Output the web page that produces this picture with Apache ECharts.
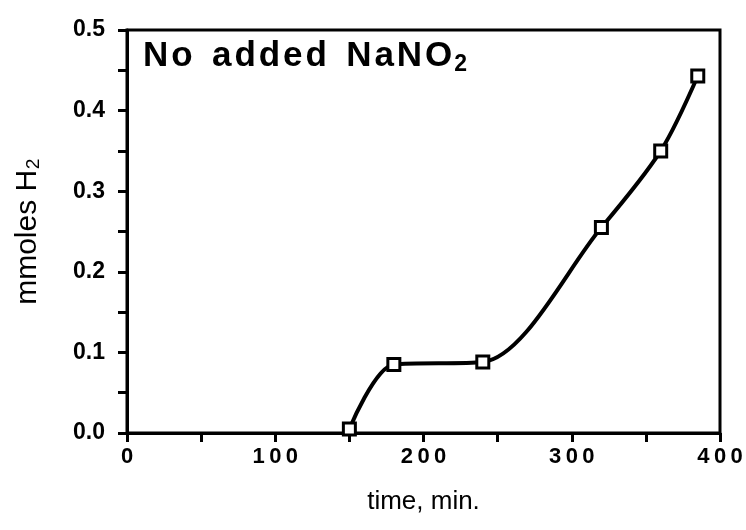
<!DOCTYPE html>
<html>
<head>
<meta charset="utf-8">
<script src="https://cdn.jsdelivr.net/npm/echarts@6/dist/echarts.min.js"></script>
<style>
  html, body { margin: 0; padding: 0; background: #fff; }
  #chart { width: 746px; height: 530px; }
</style>
</head>
<body>
<div id="chart"></div>
<script>
// Hydrogen evolved over time, no nitrite added
const timeMin = [150, 180, 240, 320, 360, 385];
const mmolesH2 = [0.005, 0.085, 0.088, 0.255, 0.35, 0.443];
const xTickLabels = ['0', '100', '200', '300', '400'];
const yTickLabels = ['0.0', '0.1', '0.2', '0.3', '0.4', '0.5'];

const FONT = 'Liberation Sans, Arial, Helvetica, sans-serif';
const chart = echarts.init(document.getElementById('chart'));

const points = timeMin.map((t, i) => [t, mmolesH2[i]]);
// spread characters apart like the typeset lettering
const spaced = (s, gap) => s.split('').join(gap);

chart.setOption({
  backgroundColor: '#fff',
  animation: false,
  grid: {
    left: 127, right: 26, top: 30, bottom: 97,
    show: true, borderColor: '#000', borderWidth: 3, backgroundColor: 'transparent'
  },
  graphic: [{
    type: 'text',
    left: 143, top: 39,
    style: {
      text: '{b|' + spaced('No', '\u200a') + '  ' + spaced('added', '\u200a') + '  ' +
            spaced('NaNO', '\u200a') + '}{s|2}',
      rich: {
        b: { fontFamily: FONT, fontWeight: 'bold', fontSize: 35, fill: '#000' },
        s: { fontFamily: FONT, fontWeight: 'bold', fontSize: 23, fill: '#000', padding: [16, 0, 0, 2] }
      }
    }
  }],
  xAxis: {
    type: 'value', min: 0, max: 400, interval: 50,
    name: 'time, min.', nameLocation: 'middle', nameGap: 56,
    nameTextStyle: { fontFamily: FONT, fontSize: 26, color: '#000' },
    axisLine: { lineStyle: { color: '#000', width: 3 } },
    axisTick: { inside: false, length: 9, lineStyle: { color: '#000', width: 3 } },
    splitLine: { show: false },
    axisLabel: {
      fontFamily: FONT, fontWeight: 'bold', fontSize: 22, color: '#000', margin: 13,
      formatter: v => (v % 100 === 0 ? spaced(xTickLabels[v / 100], '\u2009') : '')
    }
  },
  yAxis: {
    type: 'value', min: 0, max: 0.5, interval: 0.05,
    name: 'mmoles H\u2082', nameLocation: 'middle', nameGap: 84, nameRotate: 90,
    nameTextStyle: { fontFamily: FONT, fontSize: 30, color: '#000' },
    axisLine: { lineStyle: { color: '#000', width: 3 } },
    axisTick: { inside: false, length: 9, lineStyle: { color: '#000', width: 3 } },
    splitLine: { show: false },
    axisLabel: {
      fontFamily: FONT, fontWeight: 'bold', fontSize: 23, color: '#000', margin: 22,
      formatter: v => {
        const k = Math.round(v * 20);
        return k % 2 === 0 ? yTickLabels[k / 2] : '';
      }
    }
  },
  series: [{
    type: 'line',
    data: points,
    smooth: 0.3,
    symbol: 'rect',
    symbolSize: 12,
    lineStyle: { color: '#000', width: 4 },
    itemStyle: { color: '#fff', borderColor: '#000', borderWidth: 3 }
  }]
});
</script>
</body>
</html>
